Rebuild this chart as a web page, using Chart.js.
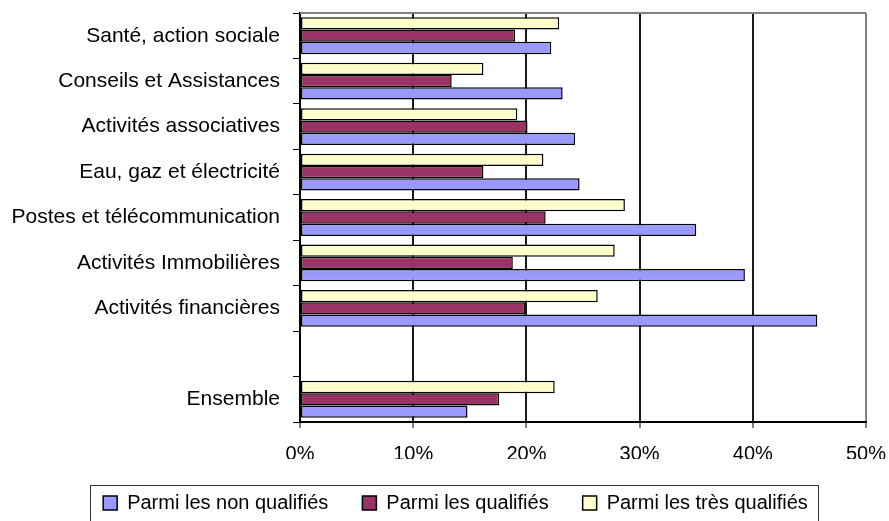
<!DOCTYPE html>
<html>
<head>
<meta charset="utf-8">
<script src="https://cdn.jsdelivr.net/npm/chart.js@4/dist/chart.umd.min.js"></script>
<style>
  html, body { margin: 0; padding: 0; background: #fff; }
  #wrap { width: 889px; height: 521px; }
</style>
</head>
<body>
<div id="wrap"><canvas id="chart"></canvas></div>
<script>
// Categories, top to bottom (the empty one is the blank row)
const categories = [
    'Santé, action sociale',
    'Conseils et Assistances',
    'Activités associatives',
    'Eau, gaz et électricité',
    'Postes et télécommunication',
    'Activités Immobilières',
    'Activités financières',
    '',
    'Ensemble'
];

// Values in %
const nonQualifies   = [22.2, 23.2, 24.3, 24.7, 35.0, 39.3, 45.7, null, 14.8];
const qualifies      = [19.0, 13.4, 20.1, 16.2, 21.7, 18.8, 19.9, null, 17.6];
const tresQualifies  = [22.9, 16.2, 19.2, 21.5, 28.7, 27.8, 26.3, null, 22.5];

const xTicks = [0, 10, 20, 30, 40, 50];

const FONT = '"Liberation Sans", Arial, sans-serif';
const LEGEND_SHIFT = 11;

// top border of the plot + frame around the legend
const framePlugin = {
    id: 'frames',
    afterLayout(chart) {
        // push the centred legend a bit to the right, like the original
        chart.legend.left += LEGEND_SHIFT;
        chart.legend.right += LEGEND_SHIFT;
    },
    afterDraw(chart) {
        const ctx = chart.ctx;
        const area = chart.chartArea;
        ctx.save();
        ctx.strokeStyle = '#808080';
        ctx.lineWidth = 2;
        ctx.beginPath();
        ctx.moveTo(area.left, area.top);
        ctx.lineTo(area.right, area.top);
        ctx.stroke();

        const lg = chart.legend;
        const pad = lg.options.labels.padding;
        const total = lg.lineWidths[0] - pad;
        const start = (lg.left + pad + lg.right - lg.lineWidths[0]) / 2;
        const left = start - 13;
        const right = start + total + 10;
        const top = lg.top + pad - 8;
        ctx.strokeStyle = '#333';
        ctx.lineWidth = 1;
        ctx.strokeRect(Math.round(left) + 0.5, Math.round(top) + 0.5, Math.round(right - left), 60);
        ctx.restore();
    }
};

new Chart(document.getElementById('chart').getContext('2d'), {
    type: 'bar',
    data: {
        labels: categories,
        datasets: [
            {
                label: 'Parmi les très qualifiés',
                data: tresQualifies,
                backgroundColor: '#FFFFCC',
                borderColor: '#000',
                borderWidth: 1.5,
                borderSkipped: false
            },
            {
                label: 'Parmi les qualifiés',
                data: qualifies,
                backgroundColor: '#993366',
                borderColor: '#000',
                borderWidth: 1.5,
                borderSkipped: false
            },
            {
                label: 'Parmi les non qualifiés',
                data: nonQualifies,
                backgroundColor: '#9999FF',
                borderColor: '#000',
                borderWidth: 1.5,
                borderSkipped: false
            }
        ]
    },
    options: {
        indexAxis: 'y',
        responsive: true,
        maintainAspectRatio: false,
        animation: false,
        categoryPercentage: 0.81,
        barPercentage: 1.0,
        layout: { padding: { top: 13, left: 0, right: 0, bottom: 0 } },
        plugins: {
            tooltip: { enabled: false },
            legend: {
                position: 'bottom',
                reverse: true,
                maxHeight: 62,
                labels: {
                    boxWidth: 14,
                    boxHeight: 14,
                    padding: 34,
                    color: '#000',
                    font: { family: FONT, size: 20 }
                }
            }
        },
        scales: {
            x: {
                min: 0,
                max: 50,
                afterBuildTicks(scale) {
                    scale.ticks = xTicks.map(v => ({ value: v }));
                },
                afterFit(scale) {
                    scale.height = 37;
                    scale.paddingLeft = 0;
                    scale.paddingRight = 23;
                },
                ticks: {
                    color: '#000',
                    padding: 14,
                    font: { family: FONT, size: 20 },
                    callback: v => v + '%'
                },
                grid: {
                    color: ctx => (ctx.tick && ctx.tick.value === 50) ? '#808080' : '#1a1a1a',
                    lineWidth: 2,
                    tickLength: 6,
                    tickColor: '#000',
                    tickWidth: 1
                },
                border: { color: '#000', width: 2 }
            },
            y: {
                afterFit(scale) {
                    scale.width = 300;
                    scale.paddingTop = 0;
                    scale.paddingBottom = 0;
                },
                ticks: {
                    color: '#000',
                    padding: 13,
                    font: { family: FONT, size: 21 }
                },
                grid: {
                    drawOnChartArea: false,
                    tickLength: 7,
                    tickColor: '#000',
                    tickWidth: 1
                },
                border: { color: '#000', width: 2 }
            }
        }
    },
    plugins: [framePlugin]
});
</script>
</body>
</html>
